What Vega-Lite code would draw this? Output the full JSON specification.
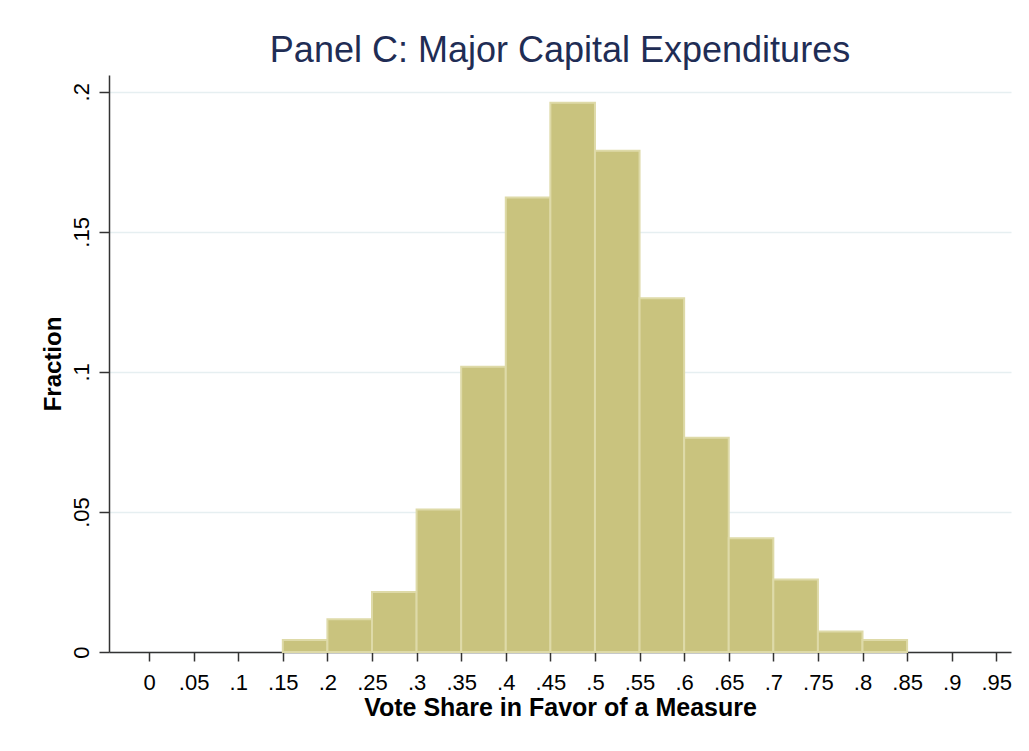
{
  "$schema": "https://vega.github.io/schema/vega-lite/v6.json",
  "width": 902,
  "height": 577,
  "autosize": {"type": "none"},
  "padding": {"left": 109, "top": 75, "right": 18, "bottom": 99},
  "background": "white",
  "config": {
    "view": {"stroke": null},
    "font": "Liberation Sans"
  },
  "title": {
    "text": "Panel C: Major Capital Expenditures",
    "fontSize": 36,
    "fontWeight": "normal",
    "color": "#1f2d55",
    "anchor": "middle",
    "baseline": "alphabetic",
    "offset": -23
  },
  "data": {
    "values": [
      {"bin_start": 0.15, "bin_end": 0.20, "fraction": 0.0043},
      {"bin_start": 0.20, "bin_end": 0.25, "fraction": 0.0117},
      {"bin_start": 0.25, "bin_end": 0.30, "fraction": 0.0214},
      {"bin_start": 0.30, "bin_end": 0.35, "fraction": 0.0509},
      {"bin_start": 0.35, "bin_end": 0.40, "fraction": 0.1018},
      {"bin_start": 0.40, "bin_end": 0.45, "fraction": 0.1623},
      {"bin_start": 0.45, "bin_end": 0.50, "fraction": 0.1961},
      {"bin_start": 0.50, "bin_end": 0.55, "fraction": 0.1790},
      {"bin_start": 0.55, "bin_end": 0.60, "fraction": 0.1263},
      {"bin_start": 0.60, "bin_end": 0.65, "fraction": 0.0765},
      {"bin_start": 0.65, "bin_end": 0.70, "fraction": 0.0406},
      {"bin_start": 0.70, "bin_end": 0.75, "fraction": 0.0259},
      {"bin_start": 0.75, "bin_end": 0.80, "fraction": 0.0073},
      {"bin_start": 0.80, "bin_end": 0.85, "fraction": 0.0043}
    ]
  },
  "mark": {"type": "bar", "fill": "#c9c37e", "stroke": "#dedaa8", "strokeWidth": 2},
  "encoding": {
    "x": {
      "field": "bin_start",
      "type": "quantitative",
      "scale": {"domain": [-0.0449, 0.9665], "nice": false, "zero": false},
      "axis": {
        "title": "Vote Share in Favor of a Measure",
        "values": [0, 0.05, 0.1, 0.15, 0.2, 0.25, 0.3, 0.35, 0.4, 0.45, 0.5, 0.55, 0.6, 0.65, 0.7, 0.75, 0.8, 0.85, 0.9, 0.95],
        "labelExpr": "datum.value == 0 ? '0' : substring(format(datum.value, '.2~f'), 1)",
        "grid": false,
        "domainColor": "#333333",
        "domainWidth": 1.5,
        "tickColor": "#333333",
        "tickWidth": 1.5,
        "tickSize": 9,
        "labelFontSize": 22,
        "labelColor": "#000000",
        "labelPadding": 11,
        "labelFlush": false,
        "titleFontSize": 25,
        "titleFontWeight": "bold",
        "titleColor": "#000000",
        "titlePadding": 2
      }
    },
    "x2": {"field": "bin_end"},
    "y": {
      "field": "fraction",
      "type": "quantitative",
      "scale": {"domain": [0, 0.206], "nice": false},
      "axis": {
        "title": "Fraction",
        "values": [0, 0.05, 0.1, 0.15, 0.2],
        "labelExpr": "datum.value == 0 ? '0' : substring(format(datum.value, '.2~f'), 1)",
        "labelAngle": -90,
        "labelAlign": "center",
        "labelBaseline": "bottom",
        "grid": true,
        "gridColor": "#e6eff1",
        "gridWidth": 1.5,
        "domainColor": "#333333",
        "domainWidth": 1.5,
        "tickColor": "#333333",
        "tickWidth": 1.5,
        "tickSize": 10,
        "labelFontSize": 22,
        "labelColor": "#000000",
        "labelPadding": 6,
        "labelFlush": false,
        "titleFontSize": 24,
        "titleFontWeight": "bold",
        "titleColor": "#000000",
        "titlePadding": 5
      }
    },
    "y2": {"datum": 0}
  }
}
